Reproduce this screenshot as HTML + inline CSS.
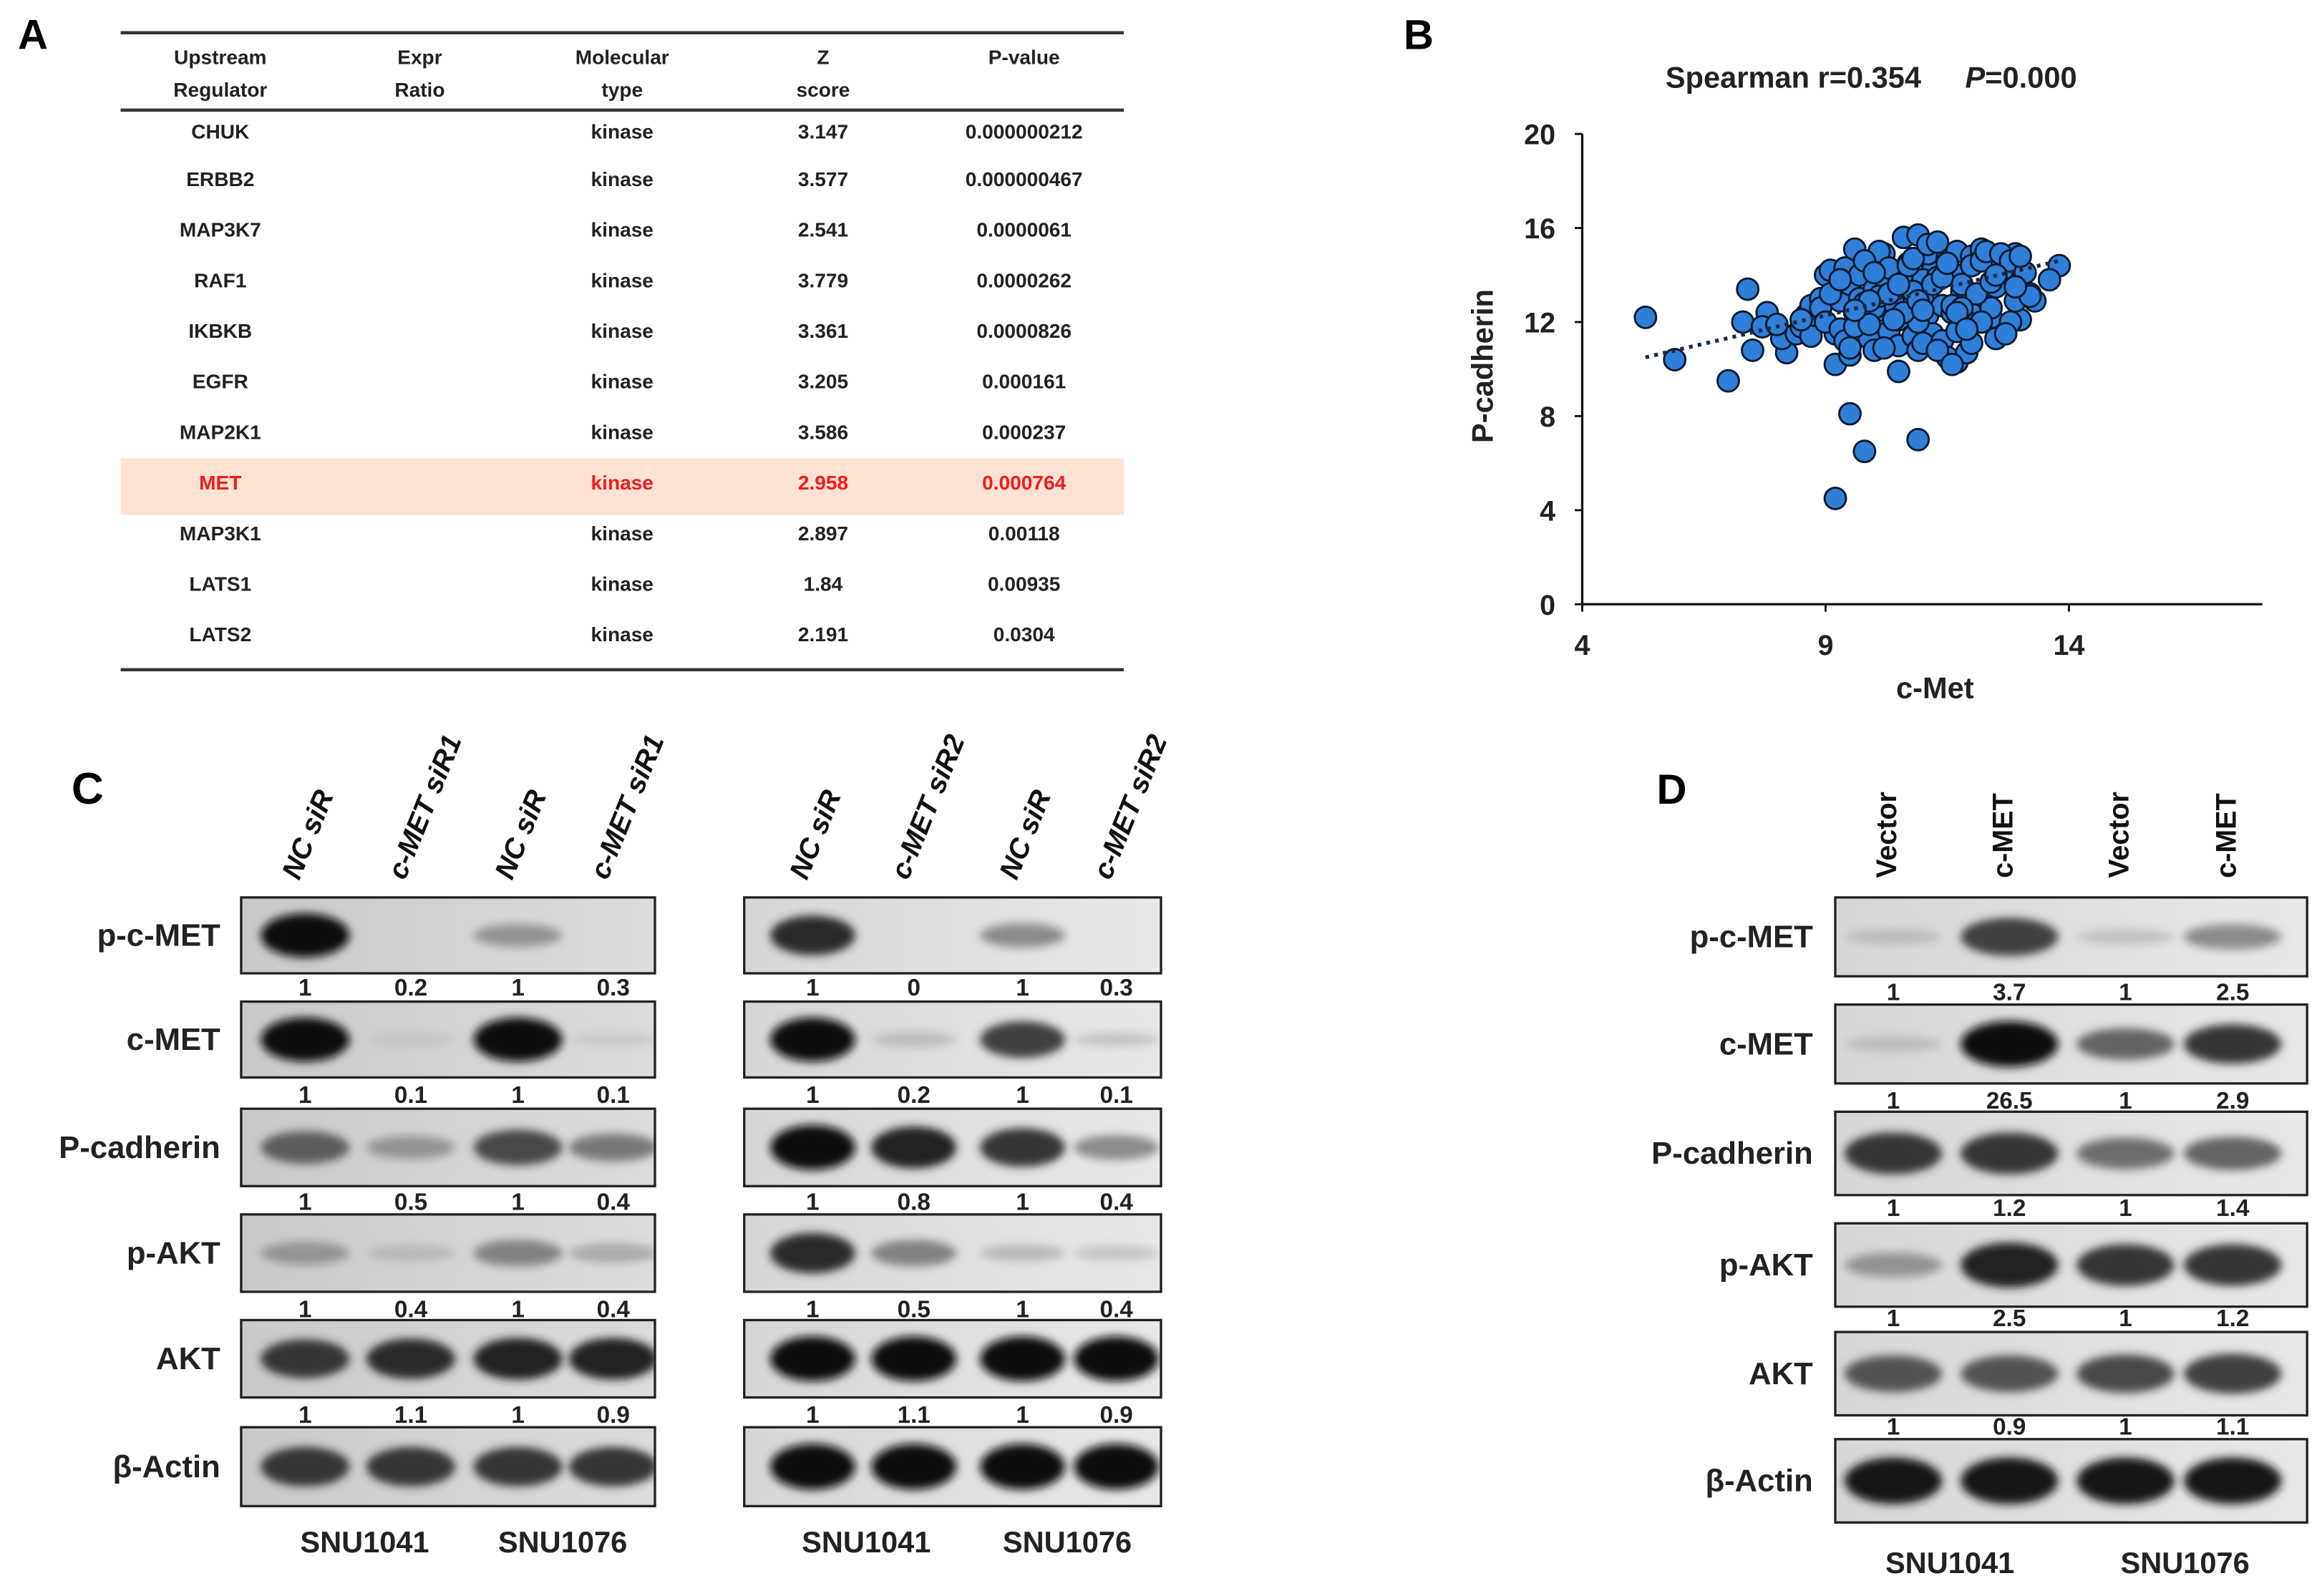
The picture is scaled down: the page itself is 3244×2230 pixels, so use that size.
<!DOCTYPE html>
<html><head><meta charset="utf-8">
<style>
html,body{margin:0;padding:0;background:#fff;}
svg{display:block;}
text{font-family:"Liberation Sans",sans-serif;}
</style></head>
<body>
<svg id="fig" width="3244" height="2230" viewBox="0 0 1560 1072.4" xmlns="http://www.w3.org/2000/svg">
<defs>
<filter id="blur" x="-30%" y="-80%" width="160%" height="260%"><feGaussianBlur stdDeviation="3"/></filter>
<linearGradient id="bgC" x1="0" x2="1"><stop offset="0" stop-color="#c9c9c9"/><stop offset="1" stop-color="#dcdcdc"/></linearGradient>
<linearGradient id="bgR" x1="0" x2="1"><stop offset="0" stop-color="#d6d6d6"/><stop offset="1" stop-color="#e8e8e8"/></linearGradient>
</defs>

<!-- Panel A -->
<g>
<text x="12" y="33" font-size="28" font-weight="bold">A</text>
<rect x="81" y="308" width="674" height="38" fill="#fde3d4"/>
<line x1="81" y1="22" x2="755" y2="22" stroke="#333" stroke-width="2.2"/>
<line x1="81" y1="74" x2="755" y2="74" stroke="#333" stroke-width="2.2"/>
<line x1="81" y1="450" x2="755" y2="450" stroke="#333" stroke-width="2.2"/>
<g id="tbl" font-size="13.5" font-weight="bold" fill="#222" text-anchor="middle"></g>
</g>

<!-- Panel B -->
<g>
<text x="943" y="33" font-size="28" font-weight="bold">B</text>
<text x="1119" y="59" font-size="20" font-weight="bold" fill="#222">Spearman r=0.354 <tspan dx="24" font-style="italic">P</tspan>=0.000</text>
<g id="scatter"></g>
<text x="1300" y="469" font-size="20" font-weight="bold" text-anchor="middle" fill="#222">c-Met</text>
<text transform="translate(1003,246) rotate(-90)" font-size="20" font-weight="bold" text-anchor="middle" fill="#222">P-cadherin</text>
</g>

<!-- Panel C -->
<text x="48" y="540" font-size="30" font-weight="bold">C</text>
<!-- Panel D -->
<text x="1113" y="540" font-size="28" font-weight="bold">D</text>
<g id="blots"></g>
</svg>

<script>
// ---------- Panel A table data ----------
const tblRegulators = ["CHUK","ERBB2","MAP3K7","RAF1","IKBKB","EGFR","MAP2K1","MET","MAP3K1","LATS1","LATS2"];
const tblTypes = ["kinase","kinase","kinase","kinase","kinase","kinase","kinase","kinase","kinase","kinase","kinase"];
const tblZ = ["3.147","3.577","2.541","3.779","3.361","3.205","3.586","2.958","2.897","1.84","2.191"];
const tblP = ["0.000000212","0.000000467","0.0000061","0.0000262","0.0000826","0.000161","0.000237","0.000764","0.00118","0.00935","0.0304"];
const tblRowY = [88,120,154,188,222,256,290,324,358,392,426];

// ---------- Panel B scatter data ----------
const xTicks = [4,9,14];
const yTicks = [0,4,8,12,16,20];
const trendLine = [[5.3,10.5],[13.8,14.6]];
const cMet = [5.3,5.9,7.0,7.4,7.3,7.5,7.8,7.7,8.2,8.1,8.0,8.4,9.5,9.8,10.9,9.2,9.2,10.5,13.8,13.6,13.3,13.0,11.7,12.9,
 8.5,8.6,8.7,8.8,8.9,8.7,8.5,8.9,9.0,9.1,9.2,9.3,9.0,9.1,9.3,9.4,9.5,9.6,9.4,9.5,9.6,9.7,9.8,9.9,9.5,9.7,9.8,9.6,
 10.0,10.1,10.2,10.3,10.0,10.2,10.4,10.1,10.3,10.5,10.6,10.4,10.2,10.0,9.9,9.8,10.1,10.6,10.7,10.8,10.5,10.9,
 11.0,11.1,11.2,10.9,11.0,11.2,11.3,11.4,11.1,11.0,10.8,10.9,11.3,11.5,11.6,11.4,11.7,11.8,11.5,11.6,11.9,12.0,
 11.7,11.8,12.1,12.2,12.0,11.9,12.3,12.4,12.2,12.5,12.6,12.3,12.4,12.7,12.8,12.5,12.6,12.9,13.0,12.8,13.1,13.2,
 11.2,11.4,11.6,10.7,10.3,9.9,12.1,12.0,11.3,10.6,11.5,12.2,10.8,11.1,11.8,12.4,12.7,13.0,13.2,10.4,10.9,11.7,
 9.6,9.3,10.0,10.5,11.0,11.9,12.5,12.9,11.6,11.3];
const pCad = [12.2,10.4,9.5,13.4,12.0,10.8,12.4,11.8,10.7,11.3,11.9,11.5,8.1,6.5,7.0,4.5,10.2,9.9,14.4,13.8,12.9,12.1,10.3,14.9,
 11.8,12.3,12.7,12.0,13.0,11.4,12.1,12.6,14.0,14.2,11.5,12.9,12.0,13.2,11.7,14.3,13.6,12.4,11.2,10.6,15.1,13.0,12.2,11.3,10.9,14.0,12.8,11.8,
 13.4,12.5,14.9,11.6,10.8,13.9,12.2,15.0,14.3,11.0,13.7,12.8,10.9,12.6,11.9,14.6,13.1,15.6,14.5,11.4,12.1,15.7,
 13.0,12.3,14.2,10.8,13.8,11.5,15.2,12.7,14.9,11.1,13.3,12.0,13.9,14.7,12.4,11.2,15.0,13.3,10.5,14.1,12.0,14.8,
 11.6,13.6,12.8,15.1,14.4,10.7,13.0,12.2,14.6,11.3,13.8,15.0,12.6,14.3,12.0,13.5,14.9,12.9,13.7,14.6,14.1,13.2,
 13.6,13.9,12.7,14.4,13.2,12.9,13.2,11.1,10.8,12.4,14.5,12.0,14.7,15.3,12.6,13.7,11.5,14.8,13.1,12.1,12.9,12.4,
 12.5,13.8,14.1,13.6,12.5,11.7,14.0,13.5,10.2,15.4];

// ---------- Panel C / D blot data ----------
const cRowLabels = ["p-c-MET","c-MET","P-cadherin","p-AKT","AKT","β-Actin"];
const cLeftLanes = ["NC siR","c-MET siR1","NC siR","c-MET siR1"];
const cRightLanes = ["NC siR","c-MET siR2","NC siR","c-MET siR2"];
const cLeftQuant = [["1","0.2","1","0.3"],["1","0.1","1","0.1"],["1","0.5","1","0.4"],["1","0.4","1","0.4"],["1","1.1","1","0.9"]];
const cRightQuant = [["1","0","1","0.3"],["1","0.2","1","0.1"],["1","0.8","1","0.4"],["1","0.5","1","0.4"],["1","1.1","1","0.9"]];
const cLeftBands = [[1,0,0.3,0],[1,0.04,1,0.02],[0.6,0.3,0.7,0.45],[0.3,0.1,0.4,0.18],[0.8,0.85,0.9,0.9],[0.8,0.8,0.8,0.8]];
const cRightBands = [[0.85,0,0.35,0],[1,0.08,0.75,0.04],[1,0.9,0.8,0.35],[0.85,0.4,0.1,0.04],[1,1,1,1],[1,1,1,1]];
const dRowLabels = ["p-c-MET","c-MET","P-cadherin","p-AKT","AKT","β-Actin"];
const dLanes = ["Vector","c-MET","Vector","c-MET"];
const dQuant = [["1","3.7","1","2.5"],["1","26.5","1","2.9"],["1","1.2","1","1.4"],["1","2.5","1","1.2"],["1","0.9","1","1.1"]];
const dBands = [[0.08,0.75,0.06,0.35],[0.08,1,0.55,0.8],[0.8,0.8,0.5,0.55],[0.3,0.9,0.8,0.8],[0.65,0.65,0.7,0.75],[0.95,0.95,0.95,0.95]];
const cellLines = ["SNU1041","SNU1076"];

const NS = "http://www.w3.org/2000/svg";
function mk(tag, attrs, parent){const e=document.createElementNS(NS,tag);for(const k in attrs)e.setAttribute(k,attrs[k]);parent.appendChild(e);return e;}

// ----- Table -----
const tbl = document.getElementById('tbl');
const hdrCols=[148,282,418,553,688];
const hdr=[["Upstream","Regulator"],["Expr","Ratio"],["Molecular","type"],["Z","score"],["P-value",""]];
hdr.forEach((h,i)=>{h.forEach((s,j)=>{if(!s)return;const t=mk('text',{x:hdrCols[i],y:43+j*22},tbl);


t.textContent=s;});});
tblRegulators.forEach((r,i)=>{
  const y=tblRowY[i]+5, red=r==="MET";
  const vals=[r,tblTypes[i],tblZ[i],tblP[i]], cols=[148,418,553,688];
  vals.forEach((v,j)=>{const t=mk('text',{x:cols[j],y:y},tbl);
    
    
    if(red)t.setAttribute('fill','#f21c1c');t.textContent=v;});
});

// ----- Scatter -----
const sc=document.getElementById('scatter');
const X0=1063,X1=1520,Y0=406,Y1=90;
const xs=v=>X0+(v-4)*(1390-1063)/10;
const ys=v=>Y0-(v-0)*(Y0-Y1)/20;
const xAxis=mk('line',{x1:X0,y1:Y0,x2:X1,y2:Y0,stroke:'#111','stroke-width':1.6},sc);


const yAxis=mk('line',{x1:X0,y1:Y0,x2:X0,y2:Y1,stroke:'#111','stroke-width':1.6},sc);


xTicks.forEach(v=>{mk('line',{x1:xs(v),y1:Y0,x2:xs(v),y2:Y0+5,stroke:'#111','stroke-width':1.4},sc);
  const t=mk('text',{x:xs(v),y:Y0+34,'font-size':19,'font-weight':'bold','text-anchor':'middle',fill:'#222'},sc);
  
  
  t.textContent=v;});
yTicks.forEach(v=>{mk('line',{x1:X0-5,y1:ys(v),x2:X0,y2:ys(v),stroke:'#111','stroke-width':1.4},sc);
  const t=mk('text',{x:X0-18,y:ys(v)+7,'font-size':19,'font-weight':'bold','text-anchor':'end',fill:'#222'},sc);
  
  
  t.textContent=v;});
cMet.forEach((x,i)=>{const c=mk('circle',{cx:xs(x),cy:ys(pCad[i]),r:7.2,fill:'#2f7ed8',stroke:'#0b1a2e','stroke-width':1.4},sc);
  
  });
const tl=mk('line',{x1:xs(trendLine[0][0]),y1:ys(trendLine[0][1]),x2:xs(trendLine[1][0]),y2:ys(trendLine[1][1]),stroke:'#1a2a44','stroke-width':2.6,'stroke-dasharray':'2.5 3.5'},sc);



// ----- Blots -----
const bl=document.getElementById('blots');
let clipN=0;
function blot(x0,x1,rowsY,lanesX,bands,quant,numY,bg){
  rowsY.forEach((r,ri)=>{
    const g=mk('g',{},bl);
    
    
    const cid='clip'+(clipN++);
    const cp=mk('clipPath',{id:cid},g);
    mk('rect',{x:x0,y:r[0],width:x1-x0,height:r[1]-r[0]},cp);
    mk('rect',{x:x0,y:r[0],width:x1-x0,height:r[1]-r[0],fill:'url(#'+bg+')'},g);
    const bg2=mk('g',{'clip-path':'url(#'+cid+')'},g);
    const h=r[1]-r[0], cy=(r[0]+r[1])/2, lw=(lanesX[1]-lanesX[0]);
    bands[ri].forEach((v,li)=>{ if(v<=0.01)return;
      const g2=Math.round(205-190*v);
      const e=mk('ellipse',{cx:lanesX[li],cy:cy,rx:lw*0.42,ry:h*(0.09+0.2*v),fill:`rgb(${g2},${g2},${g2})`,filter:'url(#blur)'},bg2);
      
      });
    mk('rect',{x:x0,y:r[0],width:x1-x0,height:r[1]-r[0],fill:'none',stroke:'#222','stroke-width':1.6},g);
    if(quant[ri]) quant[ri].forEach((q,li)=>{
      const t=mk('text',{x:lanesX[li],y:numY[ri],'font-size':16,'font-weight':'bold','text-anchor':'middle',fill:'#222'},bl);
      
      
      t.textContent=q;});
  });
}
function rowLabels(labels,rowsY,xr,fs){labels.forEach((s,i)=>{
  const t=mk('text',{x:xr,y:(rowsY[i][0]+rowsY[i][1])/2+7,'font-size':fs,'font-weight':'bold','text-anchor':'end',fill:'#222'},bl);
  
  
  t.textContent=s;});}
function laneLabels(labels,lanesX,y,rot,italic){labels.forEach((s,i)=>{
  const t=mk('text',{transform:`translate(${lanesX[i]+6},${y}) rotate(${rot})`,'font-size':19,'font-weight':'bold','font-style':italic?'italic':'normal',fill:'#111'},bl);
  
  
  t.textContent=s;});}
function cellLabels(xs2,y){cellLines.forEach((s,i)=>{
  const t=mk('text',{x:xs2[i],y:y,'font-size':20,'font-weight':'bold','text-anchor':'middle',fill:'#222'},bl);
  
  
  t.textContent=s;});}

const cRows=[[603,654],[673,724],[745,797],[816,868],[887,939],[959,1012]];
const cNum=[669,741,813,885,956];
const lanesL=[205,276,348,412], lanesR=[546,614,687,750];
blot(162,440,cRows,lanesL,cLeftBands,cLeftQuant,cNum,'bgC');
blot(500,780,cRows,lanesR,cRightBands,cRightQuant,cNum,'bgR');
rowLabels(cRowLabels,cRows,148,21);
laneLabels(cLeftLanes,lanesL.map(x=>x-10),592,-68,true);
laneLabels(cRightLanes,lanesR.map(x=>x-10),592,-68,true);
cellLabels([245,378],1043);
cellLabels([582,717],1043);

const dRows=[[603,656],[675,728],[747,803],[822,878],[895,951],[967,1023]];
const dNum=[672,745,817,891,964];
const lanesD=[1272,1350,1428,1500];
blot(1233,1550,dRows,lanesD,dBands,dQuant,dNum,'bgR');
rowLabels(dRowLabels,dRows,1218,21);
laneLabels(dLanes,lanesD.map(x=>x-4),590,-90,false);
cellLabels([1310,1468],1057);
</script>
</body></html>
